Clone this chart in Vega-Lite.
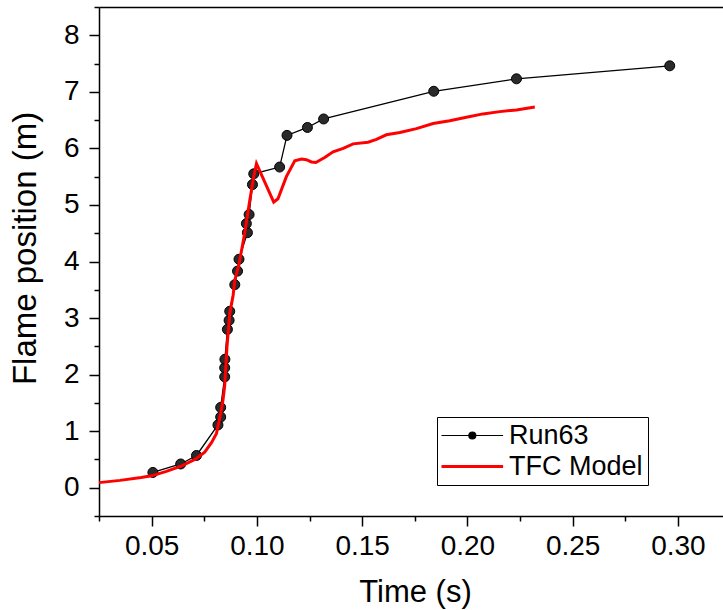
{
  "$schema": "https://vega.github.io/schema/vega-lite/v6.json",
  "width": 624,
  "height": 509,
  "autosize": "none",
  "padding": {"left": 99, "top": 7, "right": 0, "bottom": 94},
  "background": "white",
  "config": {
    "font": "Liberation Sans",
    "view": {"stroke": null},
    "axis": {
      "domainColor": "black",
      "domainWidth": 1.5,
      "tickColor": "black",
      "tickWidth": 1.5,
      "labelColor": "black",
      "titleColor": "black",
      "labelFont": "Liberation Sans",
      "titleFont": "Liberation Sans",
      "labelFontSize": 28,
      "titleFontSize": 31,
      "titleFontWeight": "normal",
      "grid": false
    }
  },
  "datasets": {
    "pts": [
      {"series": "Run63", "t": 0.0506, "y": 0.27},
      {"series": "Run63", "t": 0.0638, "y": 0.42},
      {"series": "Run63", "t": 0.0713, "y": 0.57},
      {"series": "Run63", "t": 0.0815, "y": 1.11},
      {"series": "Run63", "t": 0.0828, "y": 1.25},
      {"series": "Run63", "t": 0.0828, "y": 1.42},
      {"series": "Run63", "t": 0.0847, "y": 1.96},
      {"series": "Run63", "t": 0.0847, "y": 2.12},
      {"series": "Run63", "t": 0.0848, "y": 2.27},
      {"series": "Run63", "t": 0.0860, "y": 2.80},
      {"series": "Run63", "t": 0.0868, "y": 2.96},
      {"series": "Run63", "t": 0.0871, "y": 3.12},
      {"series": "Run63", "t": 0.0895, "y": 3.59},
      {"series": "Run63", "t": 0.0908, "y": 3.83},
      {"series": "Run63", "t": 0.0915, "y": 4.04},
      {"series": "Run63", "t": 0.0955, "y": 4.51},
      {"series": "Run63", "t": 0.0950, "y": 4.67},
      {"series": "Run63", "t": 0.0963, "y": 4.83},
      {"series": "Run63", "t": 0.0979, "y": 5.36},
      {"series": "Run63", "t": 0.0985, "y": 5.55},
      {"series": "Run63", "t": 0.1108, "y": 5.67},
      {"series": "Run63", "t": 0.1143, "y": 6.23},
      {"series": "Run63", "t": 0.1240, "y": 6.37},
      {"series": "Run63", "t": 0.1317, "y": 6.52},
      {"series": "Run63", "t": 0.1840, "y": 7.01},
      {"series": "Run63", "t": 0.2233, "y": 7.23},
      {"series": "Run63", "t": 0.2961, "y": 7.46}
    ],
    "model": [
      {"series": "TFC Model", "t": 0.025, "y": 0.09},
      {"series": "TFC Model", "t": 0.035, "y": 0.13},
      {"series": "TFC Model", "t": 0.045, "y": 0.18},
      {"series": "TFC Model", "t": 0.050, "y": 0.21},
      {"series": "TFC Model", "t": 0.057, "y": 0.29},
      {"series": "TFC Model", "t": 0.064, "y": 0.38},
      {"series": "TFC Model", "t": 0.071, "y": 0.51},
      {"series": "TFC Model", "t": 0.0752, "y": 0.63},
      {"series": "TFC Model", "t": 0.0785, "y": 0.80},
      {"series": "TFC Model", "t": 0.0808, "y": 0.96},
      {"series": "TFC Model", "t": 0.0828, "y": 1.31},
      {"series": "TFC Model", "t": 0.0839, "y": 1.55},
      {"series": "TFC Model", "t": 0.0847, "y": 1.80},
      {"series": "TFC Model", "t": 0.0858, "y": 2.49},
      {"series": "TFC Model", "t": 0.0871, "y": 3.08},
      {"series": "TFC Model", "t": 0.0887, "y": 3.40},
      {"series": "TFC Model", "t": 0.0895, "y": 3.67},
      {"series": "TFC Model", "t": 0.0915, "y": 3.95},
      {"series": "TFC Model", "t": 0.0942, "y": 4.50},
      {"series": "TFC Model", "t": 0.0966, "y": 5.08},
      {"series": "TFC Model", "t": 0.0985, "y": 5.50},
      {"series": "TFC Model", "t": 0.0998, "y": 5.73},
      {"series": "TFC Model", "t": 0.1037, "y": 5.41},
      {"series": "TFC Model", "t": 0.1080, "y": 5.05},
      {"series": "TFC Model", "t": 0.1100, "y": 5.11},
      {"series": "TFC Model", "t": 0.1140, "y": 5.50},
      {"series": "TFC Model", "t": 0.1180, "y": 5.78},
      {"series": "TFC Model", "t": 0.1212, "y": 5.81},
      {"series": "TFC Model", "t": 0.1235, "y": 5.80},
      {"series": "TFC Model", "t": 0.1259, "y": 5.76},
      {"series": "TFC Model", "t": 0.1280, "y": 5.75},
      {"series": "TFC Model", "t": 0.1322, "y": 5.84},
      {"series": "TFC Model", "t": 0.1362, "y": 5.94},
      {"series": "TFC Model", "t": 0.1410, "y": 6.00},
      {"series": "TFC Model", "t": 0.1457, "y": 6.08},
      {"series": "TFC Model", "t": 0.1528, "y": 6.11},
      {"series": "TFC Model", "t": 0.1568, "y": 6.16},
      {"series": "TFC Model", "t": 0.1615, "y": 6.24},
      {"series": "TFC Model", "t": 0.1679, "y": 6.28},
      {"series": "TFC Model", "t": 0.1758, "y": 6.35},
      {"series": "TFC Model", "t": 0.1837, "y": 6.44},
      {"series": "TFC Model", "t": 0.1916, "y": 6.49},
      {"series": "TFC Model", "t": 0.1995, "y": 6.55},
      {"series": "TFC Model", "t": 0.2074, "y": 6.61},
      {"series": "TFC Model", "t": 0.2154, "y": 6.65},
      {"series": "TFC Model", "t": 0.2233, "y": 6.68},
      {"series": "TFC Model", "t": 0.2320, "y": 6.73}
    ]
  },
  "resolve": {"axis": {"x": "independent"}},
  "layer": [
    {
      "encoding": {
        "x": {
          "field": "t", "type": "quantitative",
          "scale": {"domain": [0.025, 0.3214], "nice": false, "zero": false},
          "axis": {
            "orient": "bottom",
            "title": "Time (s)",
            "titleX": 316,
            "titleY": 85,
            "titleBaseline": "alphabetic",
            "values": [0.025, 0.05, 0.075, 0.1, 0.125, 0.15, 0.175, 0.2, 0.225, 0.25, 0.275, 0.3],
            "labelExpr": "abs(datum.value*20 - round(datum.value*20)) < 0.000001 ? format(datum.value, '.2f') : ''",
            "tickSize": {"condition": {"test": "abs(datum.value*20 - round(datum.value*20)) < 0.000001", "value": 10}, "value": 5},
            "labelPadding": 6
          }
        },
        "y": {
          "field": "y", "type": "quantitative",
          "scale": {"domain": [-0.5, 8.5], "nice": false, "zero": false},
          "axis": {
            "title": "Flame position (m)",
            "titleFontSize": 33,
            "titleX": -64,
            "titleY": 241,
            "titleAngle": 270,
            "titleAlign": "center",
            "titleBaseline": "alphabetic",
            "values": [-0.5, 0, 0.5, 1, 1.5, 2, 2.5, 3, 3.5, 4, 4.5, 5, 5.5, 6, 6.5, 7, 7.5, 8, 8.5],
            "labelExpr": "datum.value % 1 === 0 ? format(datum.value, 'd') : ''",
            "tickSize": {"condition": {"test": "datum.value % 1 === 0", "value": 10}, "value": 5},
            "labelPadding": 10
          }
        }
      },
      "layer": [
        {
          "data": {"name": "pts"},
          "mark": {"type": "line", "strokeWidth": 1.3},
          "encoding": {
            "order": {"field": "y", "type": "quantitative"},
            "color": {
              "field": "series", "type": "nominal",
              "scale": {"domain": ["Run63", "TFC Model"], "range": ["black", "#ff0000"]},
              "legend": {
                "title": null,
                "orient": "none",
                "legendX": 338,
                "legendY": 410,
                "strokeColor": "black",
                "padding": 5,
                "rowPadding": 3,
                "labelFontSize": 27,
                "labelFont": "Liberation Sans",
                "labelColor": "black",
                "labelOffset": 40,
                "symbolSize": 784,
                "symbolType": "M-1,0H3.4",
                "encode": {
                  "symbols": {
                    "update": {
                      "shape": {"signal": "datum.value === 'Run63' ? 'M-1,0H0.95M1.45,0H3.4M0.95,0A0.25,0.25,0,1,0,1.45,0A0.25,0.25,0,1,0,0.95,0' : 'M-1,0H3.4'"},
                      "strokeWidth": {"signal": "datum.value === 'Run63' ? 1.2 : 3"},
                      "fill": {"value": "black"},
                      "opacity": {"value": 1}
                    }
                  }
                }
              }
            }
          }
        },
        {
          "data": {"name": "pts"},
          "mark": {"type": "point", "filled": true, "size": 100, "fill": "#2a2a2a", "stroke": "black", "strokeWidth": 1, "opacity": 1}
        },
        {
          "data": {"name": "model"},
          "mark": {"type": "line", "strokeWidth": 3},
          "encoding": {
            "color": {"field": "series", "type": "nominal"}
          }
        }
      ]
    },
    {
      "data": {"name": "pts"},
      "mark": {"type": "point", "opacity": 0},
      "encoding": {
        "x": {
          "field": "t", "type": "quantitative",
          "axis": {"orient": "top", "ticks": false, "labels": false, "title": null}
        }
      }
    }
  ]
}
